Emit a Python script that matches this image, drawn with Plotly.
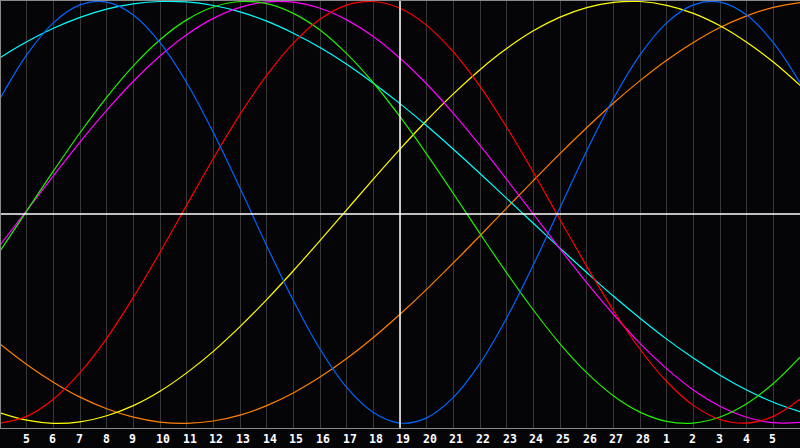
import plotly.graph_objects as go

# day index 0..30 (0 = Feb 4, 30 = Mar 6)
days = list(range(31))
tick_days = list(range(1, 30))
tick_labels = [str(d) for d in range(5, 29)] + ["1", "2", "3", "4", "5"]
today_index = 15  # Feb 19

physical = [0.538, 0.746, 0.898, 0.983, 0.996, 0.935, 0.804, 0.614, 0.378, 0.115,
            -0.158, -0.418, -0.648, -0.830, -0.949, -0.999, -0.974, -0.877, -0.716, -0.501,
            -0.249, 0.022, 0.291, 0.538, 0.746, 0.898, 0.983, 0.996, 0.935, 0.804, 0.614]
emotional = [-0.999, -0.967, -0.886, -0.760, -0.597, -0.403, -0.190, 0.034, 0.255, 0.464,
             0.649, 0.802, 0.915, 0.982, 0.999, 0.967, 0.886, 0.760, 0.597, 0.403,
             0.190, -0.034, -0.255, -0.464, -0.649, -0.802, -0.915, -0.982, -0.999, -0.967, -0.886]
intellectual = [-0.184, 0.006, 0.195, 0.377, 0.545, 0.694, 0.818, 0.912, 0.973, 0.999,
                0.989, 0.943, 0.864, 0.752, 0.614, 0.453, 0.276, 0.089, -0.101, -0.287,
                -0.463, -0.623, -0.760, -0.869, -0.947, -0.991, -0.999, -0.970, -0.907, -0.811, -0.686]
intuitive = [-0.156, 0.008, 0.173, 0.333, 0.483, 0.621, 0.741, 0.842, 0.919, 0.971,
             0.997, 0.996, 0.967, 0.912, 0.833, 0.730, 0.608, 0.469, 0.317, 0.156,
             -0.008, -0.173, -0.333, -0.483, -0.621, -0.741, -0.842, -0.919, -0.971, -0.997, -0.996]
aesthetic = [-0.950, -0.985, -1.000, -0.993, -0.964, -0.916, -0.848, -0.761, -0.659, -0.542,
             -0.414, -0.277, -0.134, 0.012, 0.157, 0.299, 0.435, 0.561, 0.676, 0.776,
             0.860, 0.925, 0.970, 0.995, 0.999, 0.981, 0.943, 0.884, 0.806, 0.712, 0.602]
awareness = [-0.624, -0.721, -0.805, -0.876, -0.931, -0.971, -0.994, -1.000, -0.989, -0.961,
             -0.916, -0.856, -0.781, -0.693, -0.593, -0.483, -0.365, -0.240, -0.111, 0.020,
             0.150, 0.278, 0.401, 0.517, 0.624, 0.721, 0.805, 0.876, 0.931, 0.971, 0.994]
spiritual = [0.733, 0.808, 0.872, 0.924, 0.963, 0.988, 0.999, 0.997, 0.980, 0.950,
             0.906, 0.849, 0.781, 0.702, 0.612, 0.515, 0.410, 0.299, 0.184, 0.066,
             -0.052, -0.170, -0.285, -0.397, -0.502, -0.601, -0.691, -0.772, -0.842, -0.900, -0.945]

series = [
    ("Awareness", awareness, "#ff7f00"),
    ("Aesthetic", aesthetic, "#ffff00"),
    ("Spiritual", spiritual, "#00ffff"),
    ("Intuitive", intuitive, "#ff00ff"),
    ("Intellectual", intellectual, "#22ee00"),
    ("Emotional", emotional, "#ff0000"),
    ("Physical", physical, "#0066ff"),
]

fig = go.Figure()
for name, vals, color in series:
    fig.add_trace(go.Scatter(
        x=days, y=vals, name=name, mode="lines",
        line=dict(color=color, width=1.2, shape="spline"),
        showlegend=False, hoverinfo="skip",
    ))

bg = "#050508"
fig.update_layout(
    width=800, height=448,
    margin=dict(l=0, r=0, t=0, b=20),
    paper_bgcolor=bg, plot_bgcolor=bg,
    xaxis=dict(range=[0, 30], tickvals=tick_days, showticklabels=False, ticks="",
               showgrid=True, gridcolor="#383838", gridwidth=1, zeroline=False,
               showline=True, linecolor="#8a8a8a", linewidth=1, mirror=False,
               fixedrange=True),
    yaxis=dict(range=[-1.0222, 1.0062], showgrid=False, showticklabels=False,
               ticks="", zeroline=False, showline=False, fixedrange=True),
    shapes=[
        dict(type="line", xref="x", yref="paper", x0=today_index, x1=today_index,
             y0=0, y1=1, line=dict(color="#ffffff", width=1.5), layer="above"),
        dict(type="line", xref="paper", yref="paper", x0=0, x1=1, y0=0.5, y1=0.5,
             line=dict(color="#ffffff", width=1.5), layer="above"),
        dict(type="line", xref="paper", yref="paper", x0=0, x1=0, y0=0, y1=1,
             line=dict(color="#8a8a8a", width=2), layer="above"),
        dict(type="line", xref="paper", yref="paper", x0=0, x1=1, y0=1, y1=1,
             line=dict(color="#8a8a8a", width=2), layer="above"),
    ],
)

for d, lab in zip(tick_days, tick_labels):
    fig.add_annotation(
        x=d, y=0, xref="x", yref="paper", text=lab, showarrow=False,
        xanchor="left", yanchor="middle", xshift=-6, yshift=-11,
        font=dict(family="DejaVu Sans Mono", size=11.5, color="#ffffff", weight="bold"),
    )

fig.write_html(
    "out.html",
    config={"displayModeBar": False},
    post_script="document.body.style.margin='0px';document.body.style.overflow='hidden';document.body.style.background='#050508';",
)
